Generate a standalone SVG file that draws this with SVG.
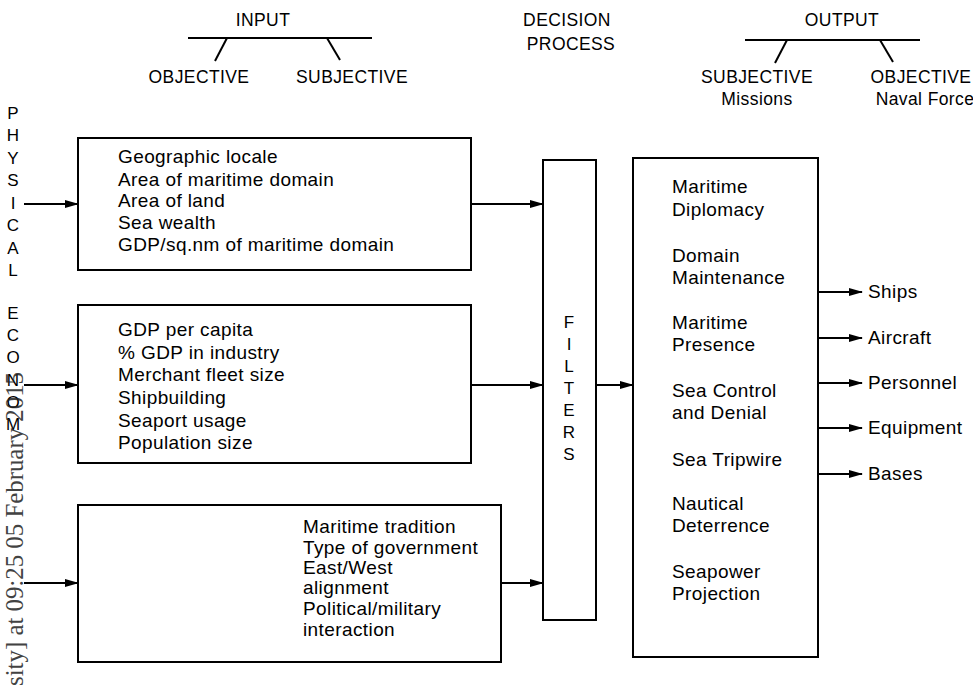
<svg xmlns="http://www.w3.org/2000/svg" width="973" height="687" viewBox="0 0 973 687">
<defs>
<marker id="ah" markerWidth="14" markerHeight="10" refX="13" refY="5" orient="auto" markerUnits="userSpaceOnUse">
<path d="M0,1 L14,5 L0,9 Z" fill="#000"/>
</marker>
<style>
text{font-family:"Liberation Sans",Arial,sans-serif;fill:#000}
.t{font-size:19px;letter-spacing:0.4px}
.h{font-size:17.5px;letter-spacing:0.4px;text-anchor:middle}
.v{font-size:17px;text-anchor:middle}
.box{fill:#fff;stroke:#000;stroke-width:2}
.ln{stroke:#000;stroke-width:2;fill:none}
.ar{stroke:#000;stroke-width:2;fill:none;marker-end:url(#ah)}
.wm{font-family:"Liberation Serif","Times New Roman",serif;font-size:26px;fill:#222;opacity:0.85}
</style>
</defs>
<rect width="973" height="687" fill="#fff"/>

<g id="headers">
<text class="h" x="263" y="26">INPUT</text>
<line class="ln" x1="188" y1="38" x2="372" y2="38"/>
<line class="ln" x1="227" y1="38" x2="215" y2="61"/>
<line class="ln" x1="327" y1="38" x2="340" y2="60"/>
<text class="h" x="199" y="83">OBJECTIVE</text>
<text class="h" x="352" y="83">SUBJECTIVE</text>
<text class="h" x="567" y="26">DECISION</text>
<text class="h" x="571" y="50">PROCESS</text>
<text class="h" x="842" y="26">OUTPUT</text>
<line class="ln" x1="745" y1="40" x2="920" y2="40"/>
<line class="ln" x1="787" y1="40" x2="775" y2="63"/>
<line class="ln" x1="880" y1="40" x2="893" y2="62"/>
<text class="h" x="757" y="83">SUBJECTIVE</text>
<text class="h" x="757" y="105">Missions</text>
<text class="h" x="921" y="83">OBJECTIVE</text>
<text class="h" x="925" y="105">Naval Force</text>
</g>

<g id="side-labels">
<text class="v" x="13" y="119">P</text>
<text class="v" x="13" y="141">H</text>
<text class="v" x="13" y="164">Y</text>
<text class="v" x="13" y="186">S</text>
<text class="v" x="13" y="209">I</text>
<text class="v" x="13" y="231">C</text>
<text class="v" x="13" y="254">A</text>
<text class="v" x="13" y="276">L</text>
<text class="v" x="13" y="319">E</text>
<text class="v" x="13" y="341">C</text>
<text class="v" x="13" y="363">O</text>
<text class="v" x="13" y="386">N</text>
<text class="v" x="13" y="408">O</text>
<text class="v" x="13" y="430">M</text>
</g>

<g id="physical">
<rect class="box" x="78" y="138" width="393" height="132"/>
<text class="t" x="118" y="163">Geographic locale</text>
<text class="t" x="118" y="186">Area of maritime domain</text>
<text class="t" x="118" y="207">Area of land</text>
<text class="t" x="118" y="229">Sea wealth</text>
<text class="t" x="118" y="251">GDP/sq.nm of maritime domain</text>
</g>

<g id="economic">
<rect class="box" x="78" y="305" width="393" height="158"/>
<text class="t" x="118" y="336">GDP per capita</text>
<text class="t" x="118" y="359">% GDP in industry</text>
<text class="t" x="118" y="381">Merchant fleet size</text>
<text class="t" x="118" y="404">Shipbuilding</text>
<text class="t" x="118" y="427">Seaport usage</text>
<text class="t" x="118" y="449">Population size</text>
</g>

<g id="political">
<rect class="box" x="78" y="505" width="423" height="157"/>
<text class="t" x="303" y="533">Maritime tradition</text>
<text class="t" x="303" y="554">Type of government</text>
<text class="t" x="303" y="574">East/West</text>
<text class="t" x="303" y="594">alignment</text>
<text class="t" x="303" y="615">Political/military</text>
<text class="t" x="303" y="636">interaction</text>
</g>

<g id="filters">
<rect class="box" x="543" y="160" width="53" height="460"/>
<text class="v" x="569" y="328">F</text>
<text class="v" x="569" y="350">I</text>
<text class="v" x="569" y="372">L</text>
<text class="v" x="569" y="394">T</text>
<text class="v" x="569" y="416">E</text>
<text class="v" x="569" y="438">R</text>
<text class="v" x="569" y="460">S</text>
</g>

<g id="missions">
<rect class="box" x="633" y="158" width="185" height="499"/>
<text class="t" x="672" y="193">Maritime</text>
<text class="t" x="672" y="216">Diplomacy</text>
<text class="t" x="672" y="262">Domain</text>
<text class="t" x="672" y="284">Maintenance</text>
<text class="t" x="672" y="329">Maritime</text>
<text class="t" x="672" y="351">Presence</text>
<text class="t" x="672" y="397">Sea Control</text>
<text class="t" x="672" y="419">and Denial</text>
<text class="t" x="672" y="466">Sea Tripwire</text>
<text class="t" x="672" y="510">Nautical</text>
<text class="t" x="672" y="532">Deterrence</text>
<text class="t" x="672" y="578">Seapower</text>
<text class="t" x="672" y="600">Projection</text>
</g>

<g id="forces">
<text class="t" x="868" y="298">Ships</text>
<text class="t" x="868" y="344">Aircraft</text>
<text class="t" x="868" y="389">Personnel</text>
<text class="t" x="868" y="434">Equipment</text>
<text class="t" x="868" y="480">Bases</text>
</g>

<g id="connectors">
<line class="ar" x1="24" y1="204" x2="78" y2="204"/>
<line class="ar" x1="24" y1="385" x2="78" y2="385"/>
<line class="ar" x1="24" y1="583" x2="78" y2="583"/>
<line class="ar" x1="471" y1="204" x2="543" y2="204"/>
<line class="ar" x1="471" y1="385" x2="543" y2="385"/>
<line class="ar" x1="501" y1="583" x2="543" y2="583"/>
<line class="ar" x1="596" y1="385" x2="633" y2="385"/>
<line class="ar" x1="818" y1="292" x2="862" y2="292"/>
<line class="ar" x1="818" y1="338" x2="862" y2="338"/>
<line class="ar" x1="818" y1="383" x2="862" y2="383"/>
<line class="ar" x1="818" y1="428" x2="862" y2="428"/>
<line class="ar" x1="818" y1="474" x2="862" y2="474"/>
</g>

<text class="wm" transform="translate(23,686) rotate(-90)" textLength="314" lengthAdjust="spacingAndGlyphs">sity] at 09:25 05 February 2015</text>
</svg>
